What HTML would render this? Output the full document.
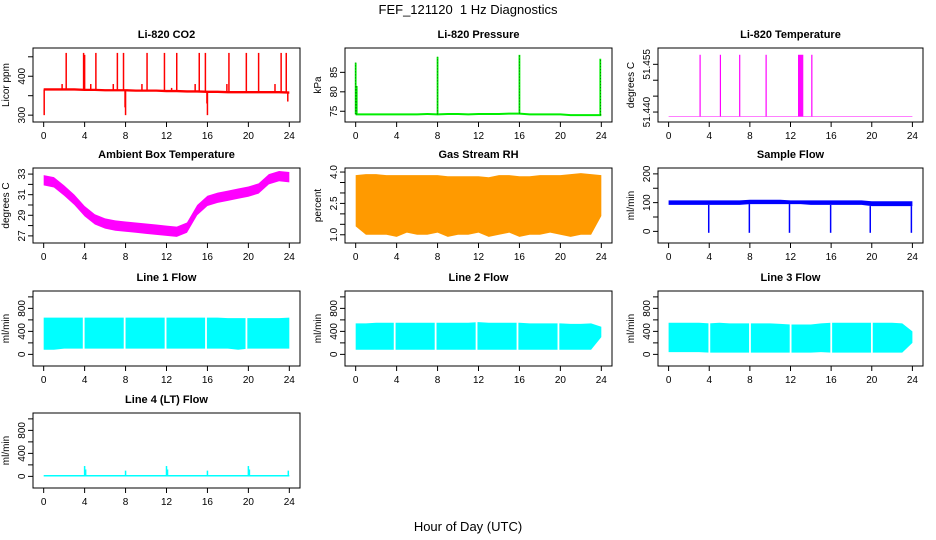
<!DOCTYPE html>
<html><head><meta charset="utf-8"><style>
html,body{margin:0;padding:0;background:#fff;}
svg{display:block;font-family:"Liberation Sans",Arial,sans-serif;}
</style></head><body>
<svg id="fig" width="936" height="540" viewBox="0 0 936 540" xmlns="http://www.w3.org/2000/svg">
<text x="468" y="14" text-anchor="middle" font-size="13">FEF_121120&#160; 1 Hz Diagnostics</text>
<text x="468" y="531" text-anchor="middle" font-size="13">Hour of Day (UTC)</text>
</svg>
<script>
// ---- data ----
const hours = [0,1,2,3,4,5,6,7,8,9,10,11,12,13,14,15,16,17,18,19,20,21,22,23,24];
const xTicks = [0,4,8,12,16,20,24];
// CO2
const co2Base = [366,366,366,366,365,365,364,364,364,363,363,363,362,362,361,361,360,360,359,359,359,359,359,359,358];
const co2SpikeHours = [0.05,1.8,2.2,3.9,4.0,4.6,5.1,6.8,7.2,7.8,7.95,8.0,9.6,10.1,11.8,12.5,13.0,14.8,15.2,15.8,15.95,16.0,17.9,18.1,19.8,21.0,22.6,23.2,23.7,23.85];
const co2SpikeVals = [300,380,460,460,455,380,460,380,460,460,320,300,380,460,460,370,460,380,460,460,330,300,380,460,460,460,380,460,460,335];
// Pressure
const presBase = [74.2,74.2,74.2,74.2,74.2,74.2,74.2,74.3,74.2,74.3,74.3,74.2,74.3,74.3,74.3,74.4,74.4,74.2,74.2,74.2,74.2,74.0,74.0,74.0,74.0];
const presSpikeHours = [0.0,0.1,8.0,16.0,23.9];
const presSpikeVals = [87.5,81.5,89.0,89.5,88.5];
// Li-820 temperature
const tempBase = 51.4386;
const tempSpikeHours = [3.1,5.1,7.0,9.6,12.8,12.9,13.0,13.1,13.2,14.1];
const tempSpikeVals = [51.458,51.458,51.458,51.458,51.458,51.458,51.458,51.458,51.458,51.458];
// Ambient box temperature
const ambMid = [32.4,32.2,31.4,30.5,29.4,28.6,28.2,28.0,27.9,27.8,27.7,27.6,27.5,27.4,27.8,29.5,30.4,30.7,30.9,31.1,31.3,31.6,32.5,32.8,32.7];
// Gas stream RH
const rhHigh = [3.85,3.9,3.9,3.85,3.85,3.85,3.85,3.85,3.85,3.8,3.8,3.8,3.8,3.75,3.85,3.85,3.8,3.8,3.85,3.85,3.85,3.9,3.95,3.9,3.85];
const rhLow = [1.4,1.0,1.0,1.0,0.9,1.1,1.0,1.0,1.1,0.9,1.0,1.0,1.1,0.9,1.0,1.1,0.9,1.0,1.0,1.1,1.0,0.9,1.0,1.0,1.9];
// Sample flow
const sfHigh = [108,108,108,108,108,108,108,108,110,110,110,110,108,108,108,108,108,108,108,108,105,105,105,105,105];
const sfLow = [92,92,92,92,92,92,92,92,95,95,95,95,95,95,92,92,92,92,92,92,88,88,88,88,88];
const sfDipHours = [3.95,7.95,11.9,15.95,19.85,23.9];
const sfDipVals = [-5,-5,-5,-5,-5,-5];
// Line flows
const l1High = [640,640,640,640,640,640,640,640,640,640,640,640,640,640,640,640,640,640,630,630,630,630,630,630,640];
const l1Low = [80,80,100,100,100,100,100,100,100,100,100,100,100,100,100,100,100,100,100,80,100,100,100,100,100];
const l1Gaps = [3.9,7.9,11.9,15.85,19.8];
const l2High = [540,540,550,550,550,550,550,550,550,550,550,550,560,550,550,550,550,540,540,540,540,530,530,540,480];
const l2Low = [80,80,80,80,80,80,80,80,80,80,80,80,80,80,80,80,80,80,80,80,80,80,80,80,300];
const l2Gaps = [3.8,7.8,11.8,15.8,19.8];
const l3High = [550,550,550,550,540,550,540,540,540,540,540,530,520,520,520,540,550,550,550,550,550,550,550,540,400];
const l3Low = [40,40,40,40,30,30,30,30,30,30,30,30,30,30,30,40,30,30,30,30,30,30,30,30,200];
const l3Gaps = [4.0,8.0,12.0,16.0,20.0];
// Line 4
const l4Base = [10,10,10,10,10,10,10,10,10,10,10,10,10,10,10,10,10,10,10,10,10,10,10,10,10];
const l4SpikeHours = [4.0,4.1,8.0,12.0,12.1,16.0,20.0,20.1,23.9];
const l4SpikeVals = [180,120,100,180,120,100,180,120,100];

// ---- layout ----
const NS = "http://www.w3.org/2000/svg";
const svg = document.getElementById('fig');
const cols = [[33,300],[345,612],[658,923]];
const rows = [[48,122],[168,243],[291,366],[413,488]];
function mk(tag, attrs, parent){ const e=document.createElementNS(NS,tag); for(const k in attrs) e.setAttribute(k,attrs[k]); (parent||svg).appendChild(e); return e; }

function panel(name, title, ylab, col, row, ymin, ymax, yTicks, yLabels){
  const [x0,x1]=cols[col], [y0,y1]=rows[row];
  const g=mk('g',{});
  
  
  const xs = h => x0 + (x1-x0)*(0.04 + 0.92*h/24);
  const ys = v => y1 - (y1-y0)*(0.04 + 0.92*(v-ymin)/(ymax-ymin));
  const t=mk('text',{x:(x0+x1)/2,y:y0-10,'text-anchor':'middle','font-size':'11','font-weight':'bold'},g);
  t.textContent=title;
  
  
  const yl=mk('text',{transform:`translate(${x0-24},${(y0+y1)/2}) rotate(-90)`,'text-anchor':'middle','font-size':'10'},g);
  yl.textContent=ylab;
  
  
  const plot=mk('g',{},g);
  
  
  const box=mk('rect',{x:x0,y:y0,width:x1-x0,height:y1-y0,fill:'none',stroke:'#000','stroke-width':1},g);
  
  
  const xa=mk('g',{},g);
  
  
  mk('line',{x1:xs(xTicks[0]),x2:xs(xTicks[xTicks.length-1]),y1:y1,y2:y1,stroke:'#000'},xa);
  xTicks.forEach(h=>{
    mk('line',{x1:xs(h),x2:xs(h),y1:y1,y2:y1+5,stroke:'#000'},xa);
    const tx=mk('text',{x:xs(h),y:y1+17,'text-anchor':'middle','font-size':'10'},xa);
    tx.textContent=h;
  });
  const ya=mk('g',{},g);
  
  
  yTicks.forEach(v=>{
    mk('line',{x1:x0,x2:x0-5,y1:ys(v),y2:ys(v),stroke:'#000'},ya);
  });
  yLabels.forEach(v=>{
    const tx=mk('text',{transform:`translate(${x0-8},${ys(v)}) rotate(-90)`,'text-anchor':'middle','font-size':'10'},ya);
    tx.textContent=v;
  });
  return {plot,xs,ys};
}
function band(p, hi, lo, fill, gaps, name){
  const pts=[];
  hours.forEach((h,i)=>pts.push(p.xs(h)+','+p.ys(hi[i])));
  for(let i=hours.length-1;i>=0;i--) pts.push(p.xs(hours[i])+','+p.ys(lo[i]));
  const e=mk('polygon',{points:pts.join(' '),fill:fill},p.plot);
  
  
  (gaps||[]).forEach(h=>{
    mk('rect',{x:p.xs(h)-0.8,y:p.ys(hi[Math.round(h)])-3,width:1.8,height:p.ys(lo[Math.round(h)])-p.ys(hi[Math.round(h)])+6,fill:'#fff'},p.plot);
  });
}
function spikes(p, hs, vs, base, color, w, name, dash){
  hs.forEach((h,i)=>{
    const b = Array.isArray(base)? base[Math.min(24,Math.round(h))] : base;
    const a={x1:p.xs(h),x2:p.xs(h),y1:p.ys(b),y2:p.ys(vs[i]),stroke:color,'stroke-width':w};
    if(dash) a['stroke-dasharray']=dash;
    const l=mk('line',a,p.plot);
    
    
  });
}
function bandFromMid(mid, d){ return [mid.map(v=>v+d), mid.map(v=>v-d)]; }

let p = panel('co2','Li-820 CO2','Licor ppm',0,0,290,465,[300,350,400,450],[300,400]);
let bb = bandFromMid(co2Base,3); band(p,bb[0],bb[1],'#ff0000',[], 'co2-line');
spikes(p,co2SpikeHours,co2SpikeVals,co2Base,'#ff0000',1.5,'co2-spike');

p = panel('pressure','Li-820 Pressure','kPa',1,0,73,90.5,[75,80,85],[75,80,85]);
bb = bandFromMid(presBase,0.25); band(p,bb[0],bb[1],'#00ee00',[], 'pressure-line');
spikes(p,presSpikeHours,presSpikeVals,presBase,'#00ee00',1.8,'pressure-spike');
spikes(p,presSpikeHours,presSpikeVals,presBase,'#000',0.5,'pressure-spike-dots','1 2');

p = panel('li820-temp','Li-820 Temperature','degrees C',2,0,51.4378,51.4592,[51.440,51.445,51.450,51.455],['51.440','51.455']);
const tb = hours.map(()=>tempBase);
band(p,tb.map(v=>v+0.00008),tb.map(v=>v-0.00008),'#ff00ff',[], 'li820-temp-line');
spikes(p,tempSpikeHours,tempSpikeVals,tb,'#ff00ff',1.2,'li820-temp-spike');

p = panel('ambient-temp','Ambient Box Temperature','degrees C',0,1,26.6,33.3,[27,28,29,30,31,32,33],[27,29,31,33]);
bb = bandFromMid(ambMid,0.5); band(p,bb[0],bb[1],'#ff00ff',[], 'ambient-temp-band');

p = panel('rh','Gas Stream RH','percent',1,1,0.75,4.05,[1.0,1.5,2.0,2.5,3.0,3.5,4.0],['1.0','2.5','4.0']);
band(p,rhHigh,rhLow,'#ff9a00',[], 'rh-band');

p = panel('sample-flow','Sample Flow','ml/min',2,1,-30,210,[0,50,100,150,200],[0,100,200]);
band(p,sfHigh,sfLow,'#0000ff',[], 'sample-flow-band');
spikes(p,sfDipHours,sfDipVals,sfLow,'#0000ff',1.5,'sample-flow-dip');

const flowTicks=[0,200,400,600,800,1000], flowLabels=[0,400,800];
p = panel('line1-flow','Line 1 Flow','ml/min',0,2,-150,1050,flowTicks,flowLabels);
band(p,l1High,l1Low,'#00ffff',l1Gaps,'line1-flow-band');
p = panel('line2-flow','Line 2 Flow','ml/min',1,2,-150,1050,flowTicks,flowLabels);
band(p,l2High,l2Low,'#00ffff',l2Gaps,'line2-flow-band');
p = panel('line3-flow','Line 3 Flow','ml/min',2,2,-150,1050,flowTicks,flowLabels);
band(p,l3High,l3Low,'#00ffff',l3Gaps,'line3-flow-band');
p = panel('line4-flow','Line 4 (LT) Flow','ml/min',0,3,-150,1050,flowTicks,flowLabels);
band(p,l4Base.map(v=>v+15),l4Base.map(v=>v-12),'#00ffff',[],'line4-flow-band');
spikes(p,l4SpikeHours,l4SpikeVals,l4Base,'#00ffff',1.5,'line4-flow-spike');
</script>
</body></html>
